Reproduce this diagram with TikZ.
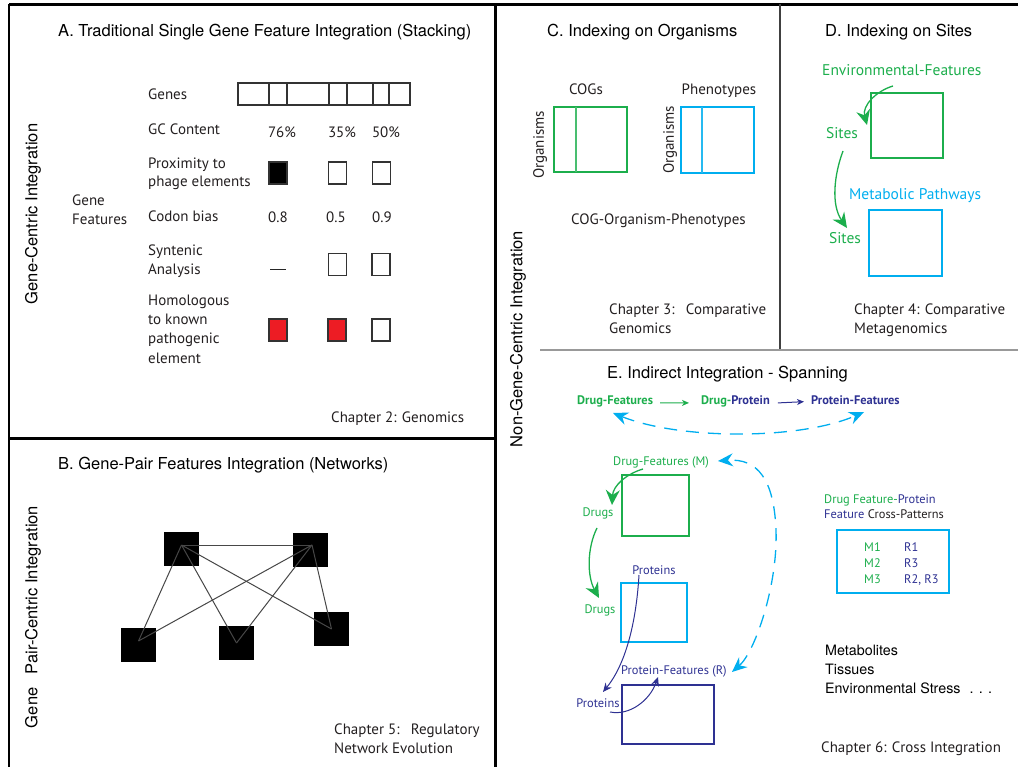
\documentclass[tikz,border=0pt]{standalone}
\usepackage{fontspec}
\setmainfont{PT Sans}
\newfontfamily\helv{TeX Gyre Heros}
\usetikzlibrary{arrows.meta,calc}
\definecolor{cgreen}{RGB}{28,174,76}
\definecolor{ccyan}{RGB}{0,174,239}
\definecolor{cpurple}{RGB}{46,49,146}
\definecolor{cred}{RGB}{237,28,36}
\definecolor{ctext}{RGB}{35,31,32}
\tikzset{
  lab/.style={inner sep=0pt, anchor=base west, text=ctext, font=\fontsize{15}{18}\selectfont},
  labc/.style={lab, anchor=base},
  dlab/.style={lab, font=\fontsize{15.5}{18}\selectfont},
  elab/.style={lab, font=\fontsize{12.4}{15}\selectfont},
  elabc/.style={elab, anchor=base},
  blab/.style={lab, font=\bfseries\fontsize{12.4}{15}\selectfont},
  ttl/.style={inner sep=0pt, anchor=base west, text=black, font=\helv\fontsize{16.5}{20}\selectfont},
  htxt/.style={inner sep=0pt, anchor=base west, text=black, font=\helv\fontsize{14.3}{17}\selectfont},
  side/.style={inner sep=0pt, rotate=90, text=black, font=\helv\fontsize{16.5}{20}\selectfont},
  sidelab/.style={inner sep=0pt, rotate=90, text=ctext, font=\fontsize{15}{18}\selectfont},
  cell/.style={draw=black!80, line width=1.2pt, minimum width=18pt, minimum height=22pt, inner sep=0pt},
  hub/.style={fill=black, minimum width=35pt, minimum height=34pt, inner sep=0pt},
  mbox/.style={line width=2.8pt, inner sep=0pt},
  ebox/.style={line width=2.4pt, inner sep=0pt},
  edge/.style={draw=black!72, line width=1pt},
  garrow/.style={cgreen, line width=1.3pt, -{Stealth[length=15pt, width=14pt, inset=5pt]}},
  parrow/.style={cpurple, line width=1pt, -{Stealth[length=9pt, width=8pt, inset=3pt]}},
  carrow/.style={ccyan, line width=1.3pt, dash pattern=on 13pt off 9pt,
    {Stealth[length=15pt, width=13pt, inset=5pt]}-{Stealth[length=15pt, width=13pt, inset=5pt]}},
}
\begin{document}
\begin{tikzpicture}[x=1pt, y=-1pt]
\useasboundingbox (0,0) rectangle (1018,767);

% ---------- frames ----------
\draw[line width=2.5pt] (9,4.5) -- (1018,4.5);
\draw[line width=2pt] (9,4) -- (9,767);
\draw[line width=3pt] (495,4) -- (495,767);
\draw[line width=2.5pt] (9,438.5) -- (495,438.5);
\draw[line width=1.5pt, black!75] (780,4) -- (780,349);
\draw[line width=2pt, black!40] (540,350) -- (1018,350);

% ---------- A: stacking ----------
\node[ttl] (ttlA) at (58,37) {A. Traditional Single Gene Feature Integration (Stacking)};
\node[side] (sideA) at (33,214) {Gene-Centric Integration};
\node[lab] (gf1) at (72,206) {Gene};
\node[lab] (gf2) at (72,225) {Features};

\node[lab] (rGenes) at (148,100) {Genes};
\node[lab] (rGC) at (148,135) {GC Content};
\node[lab] (rProx1) at (148,169) {Proximity to};
\node[lab] (rProx2) at (148,187) {phage elements};
\node[lab] (rCod) at (148,222) {Codon bias};
\node[lab] (rSyn1) at (148,256) {Syntenic};
\node[lab] (rSyn2) at (148,275) {Analysis};
\node[lab] (rHom1) at (148,306) {Homologous};
\node[lab] (rHom2) at (148,325) {to known};
\node[lab] (rHom3) at (148,344) {pathogenic};
\node[lab] (rHom4) at (148,363) {element};

% gene strip
\node[draw=black!80, line width=1.2pt, minimum width=172pt, minimum height=22pt, inner sep=0pt] (strip) at (324,94) {};
\foreach \gx in {269,287,329,347,373,389}
  \draw[black!80, line width=1.2pt] (\gx,83) -- (\gx,105);

\node[labc] (gc1) at (282,138) {76\%};
\node[labc] (gc2) at (342,138) {35\%};
\node[labc] (gc3) at (386,138) {50\%};

\node[cell, fill=black] (px1) at (278,173) {};
\node[cell] (px2) at (337.5,173) {};
\node[cell] (px3) at (381.5,173) {};

\node[labc] (cb1) at (278,223) {0.8};
\node[labc] (cb2) at (336,223) {0.5};
\node[labc] (cb3) at (382,223) {0.9};

\node[labc, text=black!85] (sy1) at (278,275) {\rule[5pt]{16pt}{1pt}};
\node[cell] (sy2) at (337.5,264.5) {};
\node[cell] (sy3) at (381,264.5) {};

\node[cell, fill=cred] (hm1) at (278,330) {};
\node[cell, fill=cred] (hm2) at (337,330) {};
\node[cell] (hm3) at (381,330) {};

\node[lab] (chA) at (331,423) {Chapter 2: Genomics};

% ---------- B: networks ----------
\node[ttl] (ttlB) at (58,469) {B. Gene-Pair Features Integration (Networks)};
\node[side] (sideB) at (33,617) {Gene\hspace{9pt} Pair-Centric Integration};

\node[hub] (n1) at (181.5,549) {};
\node[hub] (n2) at (310,549.5) {};
\node[hub] (n3) at (138.5,644.5) {};
\node[hub] (n4) at (236.5,642.5) {};
\node[hub] (n5) at (331.5,629) {};

\coordinate (p1) at ([yshift=4pt]n1.center);
\coordinate (p2) at ([xshift=2pt,yshift=4.5pt]n2.center);
\coordinate (p3) at ([yshift=3.5pt]n3.center);
\coordinate (p4) at ([yshift=-0.5pt]n4.center);
\coordinate (p5) at (n5.center);
\foreach \a/\b in {p1/p2,p1/p3,p1/p4,p1/p5,p2/p3,p2/p4,p2/p5}
  \draw[edge] (\a) -- (\b);

\node[lab] (chB1) at (334,734) {Chapter 5:\hspace{6pt} Regulatory};
\node[lab] (chB2) at (334,753) {Network Evolution};

% ---------- right column label ----------
\node[side] (sideR) at (518,339) {Non-Gene-Centric Integration};

% ---------- C: organisms ----------
\node[ttl] (ttlC) at (547,37) {C. Indexing on Organisms};
\node[labc] (cogs) at (586,95) {COGs};
\node[labc] (phen) at (719,95) {Phenotypes};
\node[mbox, draw=cgreen, minimum width=73pt, minimum height=65pt] (cogbox) at (590.5,139.5) {};
\draw[cgreen!80, line width=1.3pt] (576,107) -- (576,172);
\node[mbox, draw=ccyan, minimum width=73pt, minimum height=66pt] (phbox) at (717.5,140) {};
\draw[ccyan!85, line width=1.3pt] (702,107) -- (702,173);
\node[sidelab] (org1) at (540,145) {Organisms};
\node[sidelab] (org2) at (670,140) {Organisms};
\node[lab] (cop) at (571,225) {COG-Organism-Phenotypes};
\node[lab] (chC1) at (609,315) {Chapter 3:\hspace{6pt} Comparative};
\node[lab] (chC2) at (609,334) {Genomics};

% ---------- D: sites ----------
\node[ttl] (ttlD) at (825,37) {D. Indexing on Sites};
\node[dlab, text=cgreen] (envf) at (822,76) {Environmental-Features};
\node[mbox, draw=cgreen, minimum width=72pt, minimum height=65pt] (dbox1) at (907,125.5) {};
\node[dlab, anchor=base, text=cgreen] (site1) at (842,139) {Sites};
\node[dlab, text=ccyan] (metp) at (849,200) {Metabolic Pathways};
\node[mbox, draw=ccyan, minimum width=73pt, minimum height=66pt] (dbox2) at (905.5,243) {};
\node[dlab, anchor=base, text=cgreen] (site2) at (845,244) {Sites};
\node[lab] (chD1) at (854,315) {Chapter 4: Comparative};
\node[lab] (chD2) at (854,334) {Metagenomics};

\coordinate (d1a) at (893,86);
\coordinate (d1b) at (867,125);
\draw[garrow] (d1a) .. controls (876,91) and (862,106) .. (d1b);
\coordinate (d2a) at (843,151);
\coordinate (d2b) at (847,228);
\draw[garrow] (d2a) .. controls (834,175) and (831,205) .. (d2b);

% ---------- E: spanning ----------
\node[ttl] (ttlE) at (607,378) {E. Indirect Integration - Spanning};
\node[blab, text=cgreen] (df) at (577,405) {Drug-Features};
\node[blab] (dp) at (701,405) {\textcolor{cgreen}{Drug-}\textcolor{cpurple}{Protein}};
\node[blab, text=cpurple] (pf) at (811,405) {Protein-Features};
\draw[cgreen, line width=1pt, -{Stealth[length=7pt, width=6pt, inset=2pt]}] ([xshift=7pt,yshift=-1pt]df.east) -- ([xshift=-12pt,yshift=-1pt]dp.west);
\draw[cpurple, line width=1pt, -{Stealth[length=7pt, width=6pt, inset=2pt]}] ([xshift=8pt,yshift=-1pt]dp.east) -- ([xshift=-7pt,yshift=-1pt]pf.west);
\coordinate (s1) at (613,413);
\coordinate (s2) at (864,412);
\draw[carrow] (s1) .. controls (680,440) and (800,440) .. (s2);

\node[elab, text=cgreen] (dfm) at (613,465) {Drug-Features (M)};
\node[ebox, draw=cgreen, minimum width=67pt, minimum height=61pt] (ebox1) at (655.5,505.5) {};
\node[elabc, text=cgreen] (drugs1) at (598,516) {Drugs};
\node[elabc, text=cgreen] (drugs2) at (600,613) {Drugs};
\node[ebox, draw=ccyan, minimum width=66pt, minimum height=59pt] (ebox2) at (654,612.5) {};
\node[elabc, text=cpurple] (prot1) at (654,574) {Proteins};
\node[elab, text=cpurple] (pfr) at (621,674) {Protein-Features (R)};
\node[ebox, draw=cpurple, minimum width=92pt, minimum height=59pt] (ebox3) at (668,714.5) {};
\node[elabc, text=cpurple] (prot2) at (598,707) {Proteins};

\coordinate (e1a) at (643,469);
\coordinate (e1b) at (612,505);
\draw[garrow] (e1a) .. controls (626,474) and (613,486) .. (e1b);
\coordinate (e2a) at (597,528);
\coordinate (e2b) at (599,598);
\draw[garrow] (e2a) .. controls (587,548) and (587,576) .. (e2b);
\coordinate (e3a) at (639,575);
\coordinate (e3b) at (603,692);
\draw[parrow] (e3a) .. controls (636,625) and (625,665) .. (e3b);
\coordinate (e4a) at (610,712);
\coordinate (e4b) at (658,677);
\draw[parrow] (e4a) .. controls (630,716) and (650,700) .. (e4b);

\coordinate (c1) at (732,672);
\coordinate (c2) at (718,461);
\draw[carrow] (c1) .. controls (755,652) and (778,585) .. (776,530)
              .. controls (774,480) and (758,458) .. (c2);

\node[elab, text=cgreen] (xp1) at (824,503) {Drug Feature-\textcolor{cpurple}{Protein}};
\node[elab, text=cpurple] (xp2) at (824,518) {Feature \textcolor{ctext}{Cross-Patterns}};
\node[draw=ccyan, line width=1.2pt, minimum width=112pt, minimum height=63pt, inner sep=0pt] (xbox) at (893,561.5) {};
\node[elab, text=cgreen] (m1) at (864,551) {M1};
\node[elab, text=cgreen] (m2) at (864,567) {M2};
\node[elab, text=cgreen] (m3) at (864,583) {M3};
\node[elab, text=cpurple] (r1) at (904,551) {R1};
\node[elab, text=cpurple] (r2) at (904,567) {R3};
\node[elab, text=cpurple] (r3) at (904,583) {R2, R3};

\node[htxt] (ot1) at (825,655) {Metabolites};
\node[htxt] (ot2) at (825,674) {Tissues};
\node[htxt] (ot3) at (825,693) {Environmental Stress\hspace{9pt}. . .};

\node[lab] (chE) at (821,752) {Chapter 6: Cross Integration};
\end{tikzpicture}
\end{document}
